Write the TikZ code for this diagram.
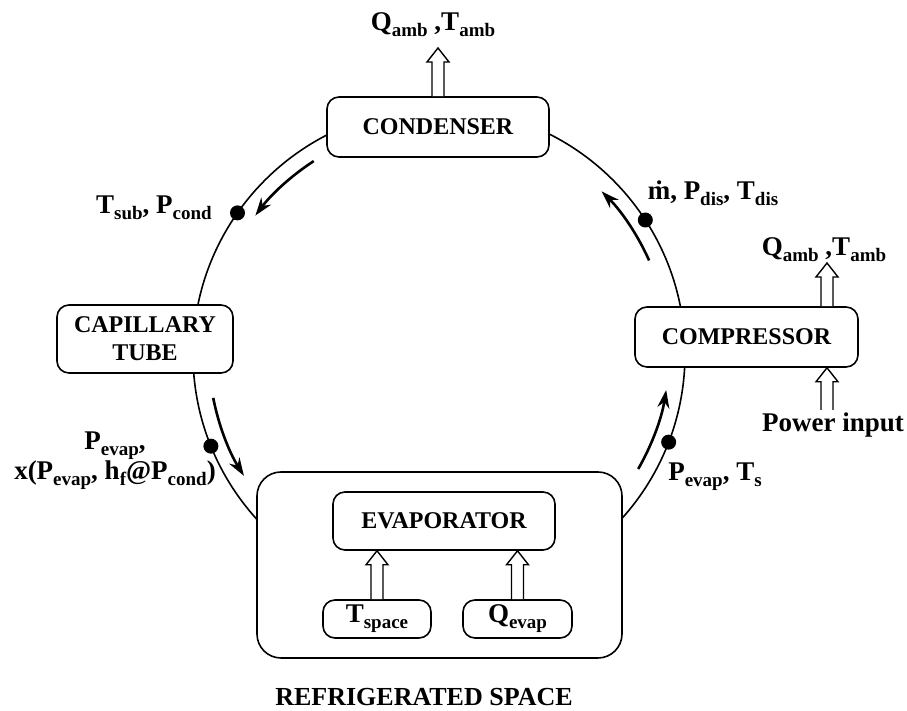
\documentclass[tikz,border=0pt]{standalone}
\usepackage{fontspec}
\setmainfont{Liberation Serif}
\usetikzlibrary{positioning, calc, arrows.meta}

% lowered, smaller index text
\newcommand{\sub}[1]{\raisebox{-3pt}{\fontsize{9.5}{10}\selectfont #1}}

\tikzset{%
  unit/.style={draw, fill=white, rounded corners=6pt, line width=0.8pt, align=center, inner sep=0pt,
    font=\bfseries\fontsize{12}{14}\selectfont},
  heat/.style={draw, fill=white, line width=0.7pt, line join=miter},
  flow/.style={-{Stealth[length=9pt,width=6pt]}, line width=1.3pt},
  probe/.style={fill=black, circle, inner sep=0pt, minimum size=7.5pt},
  cycle line/.style={line width=0.8pt}
}

% open arrow pointing straight up from #1 to #2
\newcommand{\heatarrow}[2]{%
  \draw[heat] let \p1=(#1), \p2=(#2) in
    (\x1-3pt,\y1) -- (\x1-3pt,\y2-7pt) -- (\x1-5.5pt,\y2-7pt) -- (\x1,\y2)
    -- (\x1+5.5pt,\y2-7pt) -- (\x1+3pt,\y2-7pt) -- (\x1+3pt,\y1);}

\begin{document}
\begin{tikzpicture}[x=0.5pt, y=0.5pt, every node/.style={font=\bfseries\fontsize{13.5}{15}\selectfont}]
\useasboundingbox (0,0) rectangle (907,711);

% refrigerant loop
\coordinate (o) at (439,357);
\draw[cycle line] (o) circle[radius=123pt];

% components
\node[unit, minimum width=111pt, minimum height=30pt] (cond) at (438,584) {CONDENSER};
\node[unit, minimum width=111.5pt, minimum height=30pt] (comp) at (746.5,374) {COMPRESSOR};
\node[unit, minimum width=88pt, minimum height=34pt] (cap) at (145,372) {CAPILLARY\\TUBE};
\node[unit, rounded corners=12pt, minimum width=182.5pt, minimum height=93pt] (space) at (439.5,146) {};
\node[unit, minimum width=111pt, minimum height=29pt] (evap) at (444,190) {EVAPORATOR};
\node[unit, font=\bfseries\fontsize{13.5}{15}\selectfont, minimum width=54pt, minimum height=19pt] (tsp) at (377,92) {T\sub{space}};
\node[unit, font=\bfseries\fontsize{13.5}{15}\selectfont, minimum width=54.5pt, minimum height=19pt] (qev) at (517.5,92) {Q\sub{evap}};
\node[font=\bfseries\fontsize{13}{15}\selectfont] (rs) at (424,14) {REFRIGERATED SPACE};

% heat and work
\coordinate (qc) at (438,663);
\coordinate (qk) at (827,448);
\coordinate (pin) at (827,301);
\node (qctxt) at (433,686) {Q\sub{amb} ,T\sub{amb}};
\node (qktxt) at (824,461) {Q\sub{amb} ,T\sub{amb}};
\node (pwr) at (833,286) {Power input};
\heatarrow{cond.north}{qc}
\heatarrow{qk |- comp.north}{qk}
\heatarrow{pin}{pin |- comp.south}
\heatarrow{tsp.north}{tsp.north |- evap.south}
\heatarrow{qev.north}{qev.north |- evap.south}

% state points
\node[probe] (s1) at ($(o)+(145:123pt)$) {};
\node[probe] (s2) at ($(o)+(33:123pt)$) {};
\node[probe] (s3) at ($(o)+(202:123pt)$) {};
\node[probe] (s4) at ($(o)+(-21:123pt)$) {};
\node (l1) at (154,503) {T\sub{sub}, P\sub{cond}};
\node (l2) at (713,518) {\.m, P\sub{dis}, T\sub{dis}};
\node[align=center] (l3) at (115,250) {P\sub{evap},\\x(P\sub{evap}, h\sub{f}@P\sub{cond})};
\node (l4) at (715,234) {P\sub{evap}, T\sub{s}};

% flow direction
\draw[flow] ($(o)+(123:115pt)$) arc[start angle=123, end angle=143, radius=115pt];
\draw[flow] ($(o)+(191:115pt)$) arc[start angle=191, end angle=212, radius=115pt];
\draw[flow] ($(o)+(-30:115pt)$) arc[start angle=-30, end angle=-9, radius=115pt];
\draw[flow] ($(o)+(24:115pt)$) arc[start angle=24, end angle=45, radius=115pt];
\end{tikzpicture}
\end{document}
